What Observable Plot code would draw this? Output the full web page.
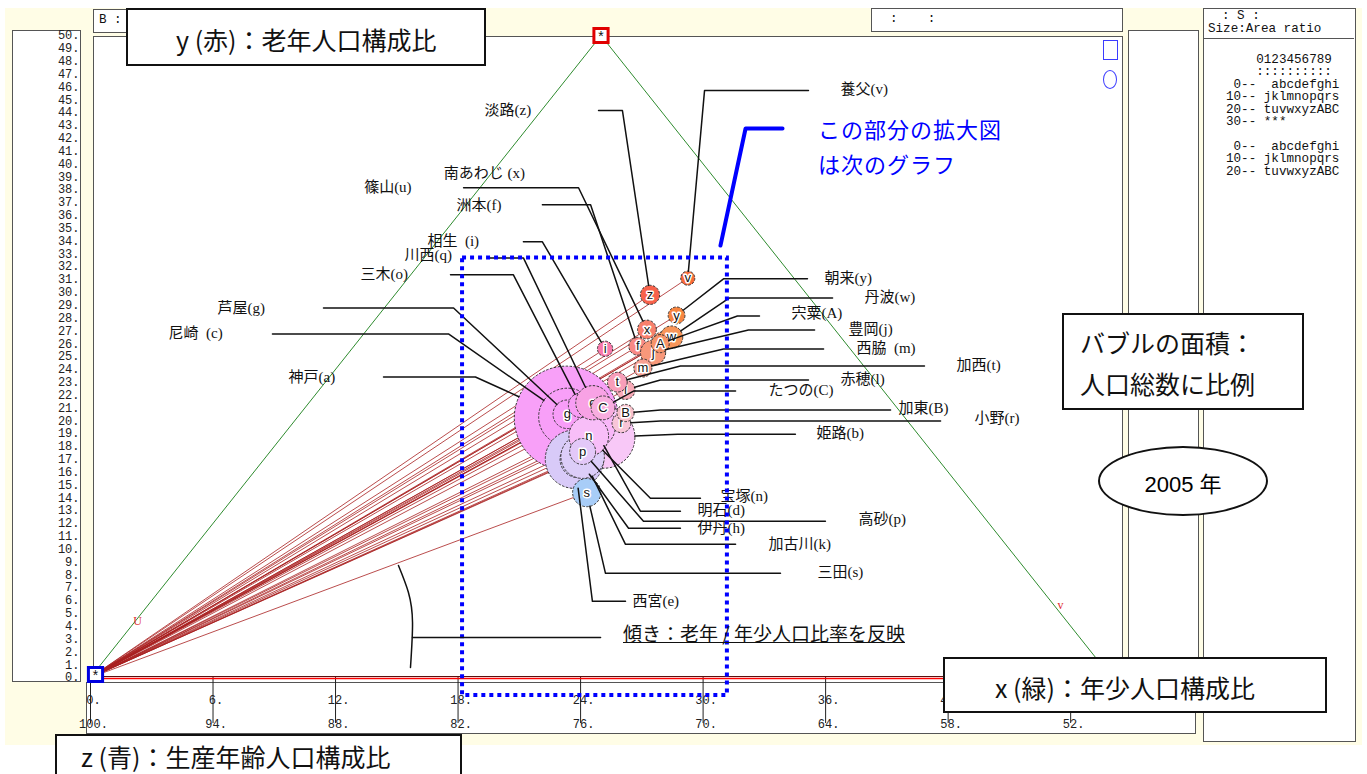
<!DOCTYPE html>
<html><head><meta charset="utf-8">
<script src="https://cdn.jsdelivr.net/npm/d3@7"></script>
<script src="https://cdn.jsdelivr.net/npm/@observablehq/plot@0.6"></script>
<style>
html,body{margin:0;padding:0;background:#fff;}
#root{position:relative;width:1367px;height:774px;overflow:hidden;font-family:"Noto Sans CJK JP",sans-serif;}
.abs{position:absolute;box-sizing:border-box;}
.bg{left:5px;top:8px;width:1357px;height:737px;background:#fffde6;}
.panel{background:#fff;border:1.5px solid #555;}
.box{background:#fff;border:2px solid #111;z-index:3;}
.mono{font-family:"Liberation Mono",monospace;font-size:12.6px;line-height:12.4px;white-space:pre;color:#111;}
.big{font-size:25px;color:#111;white-space:nowrap;}
#chart{position:absolute;left:0;top:0;z-index:2;}
</style></head><body><div id="root">
<div class="abs bg"></div>
<div class="abs panel" style="left:12px;top:30px;width:69px;height:652px"></div>
<div class="abs panel" style="left:93px;top:36px;width:1030px;height:647px"></div>
<div class="abs panel" style="left:86px;top:682px;width:1110px;height:52px"></div>
<div class="abs panel" style="left:93px;top:9px;width:40px;height:24px"><div class="abs mono" style="left:5px;top:4px">B :</div></div>
<div class="abs panel" style="left:871px;top:8px;width:252px;height:24px"><div class="abs mono" style="left:18px;top:4px">:    :</div></div>
<div class="abs panel" style="left:1128px;top:30px;width:71px;height:652px"></div>
<div class="abs panel" style="left:1203px;top:8px;width:153px;height:734px">
  <div class="abs mono" style="left:18px;top:1px">: S :</div>
  <div class="abs mono" style="left:4px;top:14px">Size:Area ratio</div>
  <div class="abs" style="left:0;top:29px;width:150px;border-top:1.5px solid #555"></div>
  <div class="abs mono" style="left:22px;top:45px"><span id="legendText"></span></div>
</div>
<div class="abs" style="left:1103px;top:40px;width:15px;height:20px;border:1.5px solid #3c3cff;z-index:3"></div>
<div class="abs" style="left:1103px;top:70px;width:14px;height:19px;border:1.5px solid #3c3cff;border-radius:50%;z-index:3"></div>
<div class="abs box" style="left:126px;top:8px;width:360px;height:58px"><div class="abs big" style="left:48px;top:11px">y (赤)：老年人口構成比</div></div>
<div class="abs box" style="left:943px;top:657px;width:384px;height:56px"><div class="abs big" style="left:50px;top:10px">x (緑)：年少人口構成比</div></div>
<div class="abs box" style="left:55px;top:734px;width:407px;height:50px"><div class="abs big" style="left:24px;top:2px">z (青)：生産年齢人口構成比</div></div>
<div class="abs box" style="left:1062px;top:313px;width:242px;height:97px"><div class="abs big" style="left:16px;top:7px;line-height:41px">バブルの面積：<br>人口総数に比例</div></div>
<div class="abs box" style="left:1098px;top:446px;width:170px;height:70px;border-radius:50%;"><div class="abs" style="left:0;top:18px;width:166px;text-align:center;font-size:22px;font-family:'Liberation Sans','Noto Sans CJK JP',sans-serif">2005 年</div></div>
<div class="abs" style="left:818px;top:111px;font-size:22px;line-height:35px;color:#0000ff;z-index:3;letter-spacing:1px">この部分の拡大図<br>は次のグラフ</div>
<div class="abs" style="left:623px;top:619px;font-size:19px;color:#111;text-decoration:underline;z-index:3;white-space:nowrap">傾き：老年 / 年少人口比率を反映</div>
<div id="chart"></div>
</div>
<script>
// ---- data (2005, Hyogo municipalities) ----
const keys = ["a","b","c","d","e","f","g","h","i","j","k","l","m","n","o","p","q","r","s","t","u","v","w","x","y","z","A","B","C"];
const names = ["神戸","姫路","尼崎","明石","西宮","洲本","芦屋","伊丹","相生","豊岡","加古川","赤穂","西脇","宝塚","三木","高砂","川西","小野","三田","加西","篠山","養父","丹波","南あわじ","朝来","淡路","宍粟","加東","たつの"];
// x: 年少人口構成比 (%)
const youngPct = [13.2,15.8,13.2,14.8,15.2,13.9,13.1,15.4,12.4,14.9,15.5,15.0,15.0,15.0,13.4,15.3,13.9,16.1,17.1,14.3,14.9,13.7,15.2,13.7,14.6,12.5,14.9,15.9,14.6];
// y: 老年人口構成比 (%)
const oldPct = [20.2,18.7,20.3,19.6,17.0,25.8,20.5,17.0,25.6,25.3,17.2,22.4,24.1,18.8,21.2,17.6,21.4,19.8,14.4,23.0,26.2,31.1,26.5,27.1,28.2,29.8,26.0,20.6,21.0];
// 人口総数 (千人) -> bubble area
const population = [1525,536,463,291,480,45,115,193,33,89,267,51,46,222,84,95,165,50,112,55,46,28,72,50,40,52,46,42,80];
// axis ticks
const yTicks = d3.range(0, 51);
const yTickLabels = yTicks.map(d => d + ".");
const xTicks = [0,6,12,18,24,30,36,42,48];
const xTickLabels = ["0.","6.","12.","18.","24.","30.","36.","42.","48."];
const zTickLabels = ["100.","94.","88.","82.","76.","70.","64.","58.","52."];
const legendLines = ["    0123456789","    ::::::::::"," 0--  abcdefghi","10-- jklmnopqrs","20-- tuvwxyzABC","30-- ***",""," 0--  abcdefghi","10-- jklmnopqrs","20-- tuvwxyzABC"];

// ---- annotation layout (chart units: X = x + y/2, Y = y) ----
const callouts = [
 {key:"z", label:"淡路(z)", tx:19.3, ty:44.15, path:[[24.88,44.15],[26.05,44.15]]},
 {key:"x", label:"南あわじ (x)", tx:17.3, ty:39.3, path:[[18.27,38.14],[23.9,38.14]]},
 {key:"u", label:"篠山(u)", tx:13.4, ty:38.2, path:[]},
 {key:"f", label:"洲本(f)", tx:17.92, ty:36.82, path:[[22.13,36.82],[24.49,36.82]]},
 {key:"i", label:"相生  (i)", tx:16.5, ty:34.0, path:[[21.2,33.93],[22.13,33.93]]},
 {key:"q", label:"川西(q)", tx:15.38, ty:32.92, path:[[19.44,32.68],[21.2,32.68]]},
 {key:"o", label:"三木(o)", tx:13.22, ty:31.44, path:[[17.63,31.36],[20.71,31.36]]},
 {key:"g", label:"芦屋(g)", tx:6.22, ty:28.78, path:[[11.41,28.78],[17.78,28.78]]},
 {key:"c", label:"尼崎  (c)", tx:3.82, ty:26.83, path:[[8.91,26.76],[17.53,26.76]]},
 {key:"a", label:"神戸(a)", tx:9.7, ty:23.4, path:[[14.35,23.4],[18.85,23.4]]},
 {key:"v", label:"養父(v)", tx:36.73, ty:45.79, path:[[35.16,45.71],[30.07,45.71]]},
 {key:"y", label:"朝来(y)", tx:35.95, ty:31.12, path:[[35.11,31.05],[31.0,31.05]]},
 {key:"w", label:"丹波(w)", tx:37.9, ty:29.64, path:[[36.34,29.56],[31.29,29.56]]},
 {key:"A", label:"宍粟(A)", tx:34.33, ty:28.39, path:[[32.76,28.16],[31.68,28.16]]},
 {key:"j", label:"豊岡(j)", tx:37.12, ty:27.15, path:[[35.46,27.07],[32.22,27.07]]},
 {key:"m", label:"西脇  (m)", tx:37.51, ty:25.66, path:[[35.9,25.59],[31.0,25.59]]},
 {key:"t", label:"加西(t)", tx:42.41, ty:24.34, path:[[40.84,24.26],[28.89,24.26]]},
 {key:"l", label:"赤穂(l)", tx:36.73, ty:23.24, path:[[35.16,23.17],[27.91,23.17]]},
 {key:"C", label:"たつの(C)", tx:33.2, ty:22.39, path:[[31.59,22.31],[26.59,22.31]]},
 {key:"B", label:"加東(B)", tx:39.57, ty:20.98, path:[[39.18,20.83],[27.91,20.83]]},
 {key:"r", label:"小野(r)", tx:43.29, ty:20.2, path:[[41.63,19.97],[27.91,19.97]]},
 {key:"b", label:"姫路(b)", tx:35.55, ty:19.03, path:[[34.52,18.95],[28.75,18.95]]},
 {key:"n", label:"宝塚(n)", tx:30.85, ty:14.12, path:[[29.87,13.96],[27.42,13.96]]},
 {key:"d", label:"明石(d)", tx:29.73, ty:13.03, path:[[28.89,12.95],[26.93,12.95]]},
 {key:"h", label:"伊丹(h)", tx:29.73, ty:11.62, path:[[28.89,11.62],[26.35,11.62]]},
 {key:"p", label:"高砂(p)", tx:37.61, ty:12.32, path:[[35.99,12.17],[27.08,12.17]]},
 {key:"k", label:"加古川(k)", tx:33.2, ty:10.37, path:[[31.59,10.37],[26.2,10.37]]},
 {key:"s", label:"三田(s)", tx:35.6, ty:8.19, path:[[33.79,8.11],[25.22,8.11]]},
 {key:"e", label:"西宮(e)", tx:26.54, ty:5.93, path:[[26.2,5.93],[24.58,5.93]]}
];
const zoomBox = {x1:18.22, x2:31.19, y1:-1.4, y2:32.68};
const blueLeader = [[30.85,33.64],[32.08,42.76],[33.89,42.76]];
const slopeArc = [[15.08,8.72],[15.57,6.62],[15.77,4.28],[15.67,0.78]];
const slopeLine = [[15.77,3.12],[24.98,3.12]];

// ---- layout ----
const W = 1367, H = 774, ML = 90, MR = 256, MT = 35, MB = 97;
const KX = (W - ML - MR) / 50, KY = (H - MT - MB) / 50;
const RMAX = 52, POPMAX = 1525;

document.getElementById("legendText").textContent = legendLines.join("\n");

const proj = (young, old) => young + old / 2;
const bubbles = keys.map((k, i) => ({key: k, name: names[i], young: youngPct[i], old: oldPct[i], pop: population[i], X: proj(youngPct[i], oldPct[i])}));
const byKey = Object.fromEntries(bubbles.map(d => [d.key, d]));

function bubbleColor(d) {
  const z = 100 - d.young - d.old;
  const R = Math.min(248, 168 + (d.old - 14.4) * 18.5);
  const B = Math.max(55, Math.min(248, 60 + (z - 57) * 22));
  const G = Math.max(85, Math.min(205, -443.9 + d.young * 17.7 + z * 5.56));
  return d3.rgb(R, G, B).formatHex();
}

function edgePoint(knee, d) {
  const r = RMAX * Math.sqrt(d.pop / POPMAX);
  const cx = ML + d.X * KX, cy = MT + (50 - d.old) * KY;
  const kx = ML + knee[0] * KX, ky = MT + (50 - knee[1]) * KY;
  const dx = cx - kx, dy = cy - ky, len = Math.hypot(dx, dy) || 1;
  const ex = cx - dx / len * r, ey = cy - dy / len * r;
  return [(ex - ML) / KX, 50 - (ey - MT) / KY];
}
const leaderPts = callouts.flatMap(c => c.path.length
  ? [...c.path, edgePoint(c.path[c.path.length - 1], byKey[c.key])].map(p => ({key: c.key, X: p[0], Y: p[1]}))
  : []);

const triangle = [{young:0, old:0}, {young:0, old:50}, {young:50, old:0}];
const serifJP = "'Liberation Serif','Noto Sans CJK JP',serif";
const mono = "'Liberation Mono',monospace";

const bubbleMarks = bubbles.flatMap(d => [
  Plot.dot([d], {x: "X", y: "old", r: "pop", fill: bubbleColor, stroke: "#333", strokeWidth: 1, strokeDasharray: "2.5,1.5"}),
  Plot.text([d], {x: "X", y: "old", text: "key", fontSize: 13, fontFamily: "'Liberation Sans',sans-serif", fill: "#111", stroke: "white", strokeWidth: 3, paintOrder: "stroke"})
]);

const chart = Plot.plot({
  width: W, height: H,
  marginLeft: ML, marginRight: MR, marginTop: MT, marginBottom: MB,
  x: {domain: [0, 50], axis: null},
  y: {domain: [0, 50], axis: null},
  r: {type: "sqrt", domain: [0, POPMAX], range: [0, RMAX]},
  color: {type: "identity"},
  style: {background: "transparent", overflow: "visible"},
  marks: [
    // triangle frame
    Plot.line(triangle, {x: d => proj(d.young, d.old), y: "old", stroke: "#2e8b2e", strokeWidth: 1}),
    // y tick labels (left panel)
    Plot.text(yTicks, {y: d => d, text: (d, i) => yTickLabels[i], frameAnchor: "left", dx: -11, textAnchor: "end", fontSize: 12, fontFamily: mono, fill: "#222"}),
    // bottom axis
    Plot.axisX({ticks: xTicks, tickSize: 46, tickFormat: () => "", stroke: "#222"}),
    Plot.text(xTicks, {x: d => d, text: (d, i) => xTickLabels[i], frameAnchor: "bottom", dy: 26, dx: 3, fontSize: 12, fontFamily: mono, fill: "#222"}),
    Plot.text(xTicks, {x: d => d, text: (d, i) => zTickLabels[i], frameAnchor: "bottom", dy: 50, dx: 3, fontSize: 12, fontFamily: mono, fill: "#222"}),
    // base line
    Plot.ruleY([0], {x1: 0, x2: 50.6, stroke: "#5a1010", strokeWidth: 1, dy: -1}),
    Plot.ruleY([0], {x1: 0, x2: 50.6, stroke: "#ff0000", strokeWidth: 1.5, dy: 1}),
    // rays from origin (slope = old/young)
    Plot.link(bubbles, {x1: 0, y1: 0, x2: "X", y2: "old", stroke: "#a82020", strokeWidth: 0.8}),
    // bubbles in order
    ...bubbleMarks,
    // leader lines and labels
    Plot.line(leaderPts, {x: "X", y: "Y", z: "key", stroke: "#111", strokeWidth: 1.5}),
    Plot.text(callouts, {x: "tx", y: "ty", text: "label", textAnchor: "start", fontSize: 15, fontFamily: serifJP, fill: "#111"}),
    // zoom box annotation
    Plot.rect([zoomBox], {x1: "x1", x2: "x2", y1: "y1", y2: "y2", fill: "none", stroke: "#0000ff", strokeWidth: 4, strokeDasharray: "4,4"}),
    Plot.line(blueLeader, {x: d => d[0], y: d => d[1], stroke: "#0000ff", strokeWidth: 4}),
    // slope annotation
    Plot.line(slopeArc, {x: d => d[0], y: d => d[1], curve: "natural", stroke: "#111", strokeWidth: 1.5}),
    Plot.line(slopeLine, {x: d => d[0], y: d => d[1], stroke: "#111", strokeWidth: 1.5}),
    // vertex markers
    Plot.dot([{X: 25, Y: 50}], {x: "X", y: "Y", symbol: "square", r: 8, fill: "white", stroke: "#e00000", strokeWidth: 3}),
    Plot.text([{X: 25, Y: 50}], {x: "X", y: "Y", text: () => "*", fontSize: 14, fontFamily: mono, fill: "#111", dy: 2}),
    Plot.dot([{X: 0, Y: 0}], {x: "X", y: "Y", symbol: "square", r: 8, fill: "white", stroke: "#0000e0", strokeWidth: 3, dx: 5, dy: -3}),
    Plot.text([{X: 0, Y: 0}], {x: "X", y: "Y", text: () => "*", fontSize: 14, fontFamily: mono, fill: "#111", dx: 5, dy: -1}),
    Plot.text([{X: 2.3, Y: 4.4}], {x: "X", y: "Y", text: () => "U", fontSize: 12, fontFamily: serifJP, fill: "#e03030"}),
    Plot.text([{X: 47.5, Y: 5.6}], {x: "X", y: "Y", text: () => "v", fontSize: 12, fontFamily: serifJP, fill: "#e03030"})
  ]
});
document.getElementById("chart").appendChild(chart);
</script>
</body></html>
